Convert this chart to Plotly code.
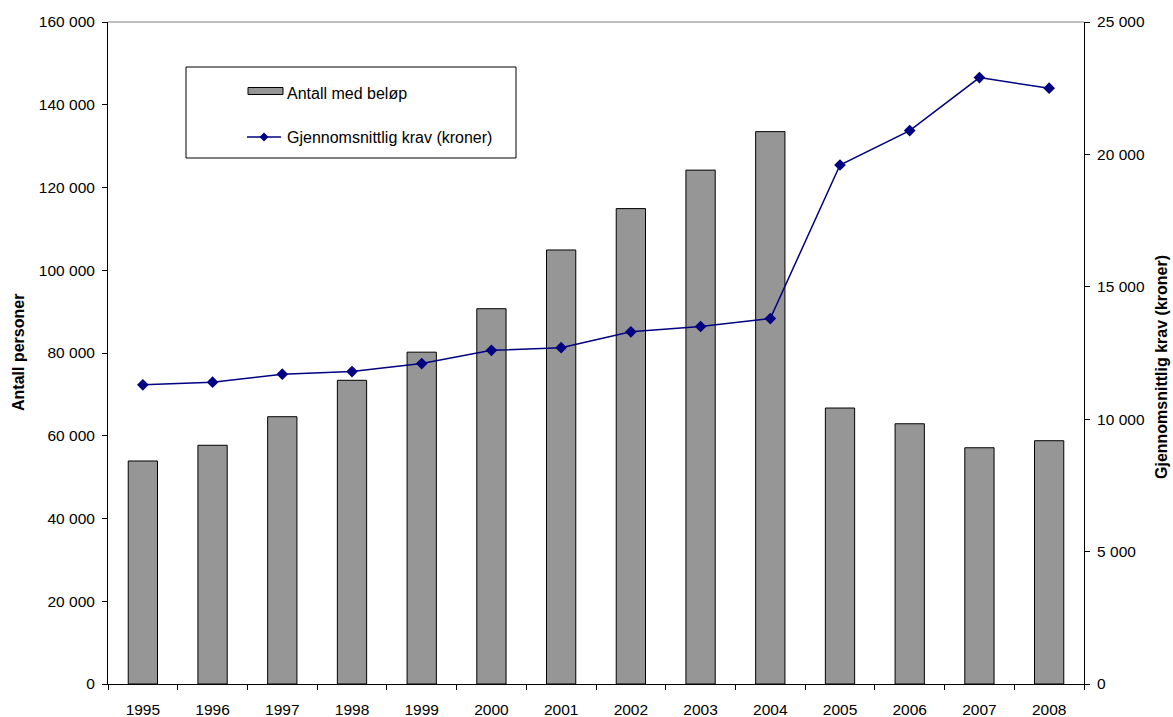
import plotly.graph_objects as go

# Data
years = ["1995", "1996", "1997", "1998", "1999", "2000", "2001",
         "2002", "2003", "2004", "2005", "2006", "2007", "2008"]
antall_med_belop = [53900, 57700, 64600, 73400, 80200, 90700, 104900,
                    114900, 124200, 133500, 66700, 62900, 57100, 58800]
gjennomsnittlig_krav = [11300, 11400, 11700, 11800, 12100, 12600, 12700,
                        13300, 13500, 13800, 19600, 20900, 22900, 22500]

left_ticks = [0, 20000, 40000, 60000, 80000, 100000, 120000, 140000, 160000]
right_ticks = [0, 5000, 10000, 15000, 20000, 25000]


def fmt(v):
    return f"{v:,}".replace(",", " ")


FONT = "Liberation Sans, Arial, sans-serif"
BAR_COLOR = "#969696"
LINE_COLOR = "#000080"

W, H = 1173, 717
L, R, T, B = 108, 89, 22, 33
PW, PH = W - L - R, H - T - B


def px(x):
    return (x - L) / PW


def py(y):
    return (H - B - y) / PH


fig = go.Figure()

fig.add_trace(go.Bar(
    x=years, y=antall_med_belop, name="Antall med beløp",
    marker=dict(color=BAR_COLOR, line=dict(color="#000000", width=1)),
    xaxis="x", yaxis="y", showlegend=False,
))

fig.add_trace(go.Scatter(
    x=years, y=gjennomsnittlig_krav, name="Gjennomsnittlig krav (kroner)",
    mode="lines+markers",
    line=dict(color=LINE_COLOR, width=1.5),
    marker=dict(symbol="diamond", size=9, color=LINE_COLOR),
    xaxis="x", yaxis="y2", showlegend=False,
))

tickfont = dict(family=FONT, size=15.5, color="#000000")

fig.update_layout(
    width=W, height=H,
    margin=dict(l=L, r=R, t=T, b=B, pad=0),
    paper_bgcolor="white", plot_bgcolor="white",
    bargap=0.58,
    font=dict(family=FONT, color="#000000"),
    xaxis=dict(
        type="category", categoryorder="array", categoryarray=years,
        range=[-0.5, 13.5], automargin=False,
        showline=True, linecolor="#000000", linewidth=1,
        ticks="outside", ticklen=5, tickcolor="#000000", tickwidth=1,
        tickson="boundaries", tickfont=tickfont, showgrid=False,
        zeroline=False, ticklabelstandoff=11,
    ),
    xaxis2=dict(
        overlaying="x", anchor="y", range=[-0.5, 13.5], automargin=False,
        tickvals=[i + 0.5 for i in range(13)],
        ticks="inside", ticklen=5, tickcolor="#000000", tickwidth=1,
        showticklabels=False, showline=False, showgrid=False, zeroline=False,
    ),
    yaxis=dict(
        range=[0, 160000], tickvals=left_ticks, automargin=False,
        ticktext=[fmt(v) for v in left_ticks],
        showline=True, linecolor="#000000", linewidth=1,
        ticks="outside", ticklen=5, tickcolor="#000000", tickwidth=1,
        tickfont=tickfont, showgrid=False, zeroline=False,
        ticklabelstandoff=4,
    ),
    yaxis2=dict(
        range=[0, 25000], tickvals=right_ticks, automargin=False,
        ticktext=[fmt(v) for v in right_ticks],
        overlaying="y", side="right", anchor="x",
        showline=True, linecolor="#000000", linewidth=1,
        ticks="outside", ticklen=5, tickcolor="#000000", tickwidth=1,
        tickfont=tickfont, showgrid=False, zeroline=False,
        ticklabelstandoff=4,
    ),
    yaxis3=dict(
        range=[0, 160000], tickvals=left_ticks, overlaying="y", side="left",
        anchor="x", ticks="inside", ticklen=5, tickcolor="#000000",
        automargin=False,
        showticklabels=False, showline=False, showgrid=False, zeroline=False,
    ),
    yaxis4=dict(
        range=[0, 25000], tickvals=right_ticks, overlaying="y", side="right",
        anchor="x", ticks="inside", ticklen=5, tickcolor="#000000",
        automargin=False,
        showticklabels=False, showline=False, showgrid=False, zeroline=False,
    ),
)

shapes = [
    # top border of the plot area
    dict(type="line", xref="paper", yref="paper", x0=0, x1=1, y0=1, y1=1,
         line=dict(color="#808080", width=1)),
    # legend frame
    dict(type="rect", xref="paper", yref="paper",
         x0=px(186), x1=px(516), y0=py(158), y1=py(67),
         line=dict(color="#000000", width=1), fillcolor="white"),
    # legend key: bars
    dict(type="rect", xref="paper", yref="paper",
         x0=px(248), x1=px(283), y0=py(94.5), y1=py(87.5),
         line=dict(color="#000000", width=1), fillcolor=BAR_COLOR),
    # legend key: line
    dict(type="line", xref="paper", yref="paper",
         x0=px(247), x1=px(281), y0=py(137), y1=py(137),
         line=dict(color=LINE_COLOR, width=1.5)),
]
cx, cy, d = 264, 137, 4.5
shapes.append(dict(
    type="path", xref="paper", yref="paper",
    path=(f"M {px(cx)},{py(cy - d)} L {px(cx + d)},{py(cy)} "
          f"L {px(cx)},{py(cy + d)} L {px(cx - d)},{py(cy)} Z"),
    fillcolor=LINE_COLOR, line=dict(color=LINE_COLOR, width=0),
))

annotations = [
    dict(text="Antall med beløp", xref="paper", yref="paper",
         x=px(285), y=py(93), xanchor="left", yanchor="middle",
         showarrow=False, font=dict(family=FONT, size=16)),
    dict(text="Gjennomsnittlig krav (kroner)", xref="paper", yref="paper",
         x=px(285), y=py(137), xanchor="left", yanchor="middle",
         showarrow=False, font=dict(family=FONT, size=16)),
    dict(text="<b>Antall personer</b>", xref="paper", yref="paper",
         x=px(18), y=py(353), xanchor="center", yanchor="middle",
         textangle=-90, showarrow=False, font=dict(family=FONT, size=16)),
    dict(text="<b>Gjennomsnittlig krav (kroner)</b>", xref="paper", yref="paper",
         x=px(1162), y=py(367), xanchor="center", yanchor="middle",
         textangle=-90, showarrow=False, font=dict(family=FONT, size=16)),
]

fig.update_layout(shapes=shapes, annotations=annotations)
for s in fig.layout.shapes:
    s.layer = "above"

fig.write_html("out.html")
